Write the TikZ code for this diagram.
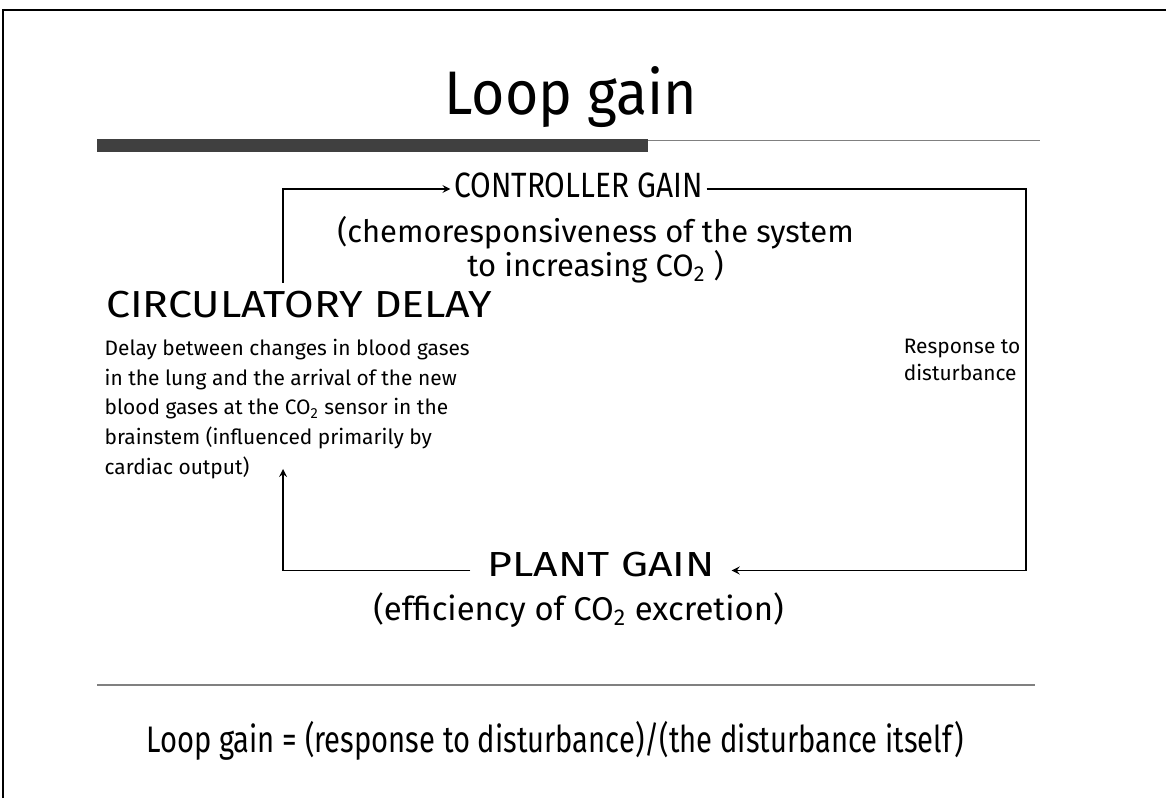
\documentclass[tikz,border=0pt]{standalone}
\usepackage{fontspec}
\setmainfont{Fira Sans}
\usetikzlibrary{positioning}

\begin{document}
\begin{tikzpicture}[>=stealth, line width=1pt,
  every node/.style={inner sep=1pt},
  gain/.style={font=\fontsize{20}{24}\selectfont, transform shape},
  note/.style={font=\fontsize{17.6}{19.5}\selectfont, align=center},
  small/.style={font=\fontsize{11.9}{16.8}\selectfont}]
  \useasboundingbox (0,0) rectangle (23.32,15.96);
  % frame of the slide
  \draw[line width=0.6pt] (0.06,0) -- (0.06,15.76) -- (23.32,15.76);
  % title and bar
  \node[font=\fontsize{35}{40}\selectfont, xscale=0.93, transform shape] (title) at (11.42,14.02) {Loop gain};
  \fill[black!75] (1.94,12.92) rectangle (12.96,13.18);
  \draw[gray] (12.96,13.15) -- (20.8,13.15);
  % loop
  \node[gain, xscale=0.85] (ctrl) at (11.57,12.26) {CONTROLLER GAIN};
  \node[note] (chemo) at (11.91,10.96) {(chemoresponsiveness of the system\\ to increasing CO\textsubscript{2} )};
  \node[gain, font=\fontsize{21.4}{24}\selectfont, xscale=1.14, anchor=west] (circ) at (2.06,9.86) {CIRCULATORY DELAY};
  \node[small, align=left, anchor=north west] (desc) at (2.04,9.22) {Delay between changes in blood gases\\in the lung and the arrival of the new\\blood gases at the CO\textsubscript{2} sensor in the\\brainstem (influenced primarily by\\cardiac output)};
  \node[small, font=\fontsize{11.9}{15.9}\selectfont, align=left, anchor=north east] (resp) at (20.46,9.24) {Response to\\disturbance};
  \node[gain, font=\fontsize{19.8}{24}\selectfont, xscale=1.23] (plant) at (12.02,4.66) {PLANT GAIN};
  \node[note, font=\fontsize{18.7}{22}\selectfont] (eff) at (11.57,3.76) {(efficiency of CO\textsubscript{2} excretion)};
  \coordinate (up) at (5.66,10.3);
  \coordinate (tl) at (5.66,12.18);
  \coordinate (tr) at (20.52,12.18);
  \coordinate (br) at (20.52,4.55);
  \coordinate (bl) at (5.66,4.55);
  \coordinate (back) at (5.66,6.58);
  \draw[->] (up) -- (tl) -- ([xshift=-1pt]ctrl.west |- tl);
  \draw[->] ([xshift=1pt]ctrl.east |- tr) -- (tr) -- (br) -- ([xshift=8pt]plant.east |- br);
  \draw[->] ([xshift=-8pt]plant.west |- bl) -- (bl) -- (back);
  % formula
  \draw[gray] (1.94,2.26) -- (20.7,2.26);
  \node[font=\fontsize{21}{24}\selectfont, xscale=0.79, transform shape] (formula) at (11.1,1.14) {Loop gain = (response to disturbance)/(the disturbance itself)};
\end{tikzpicture}
\end{document}
